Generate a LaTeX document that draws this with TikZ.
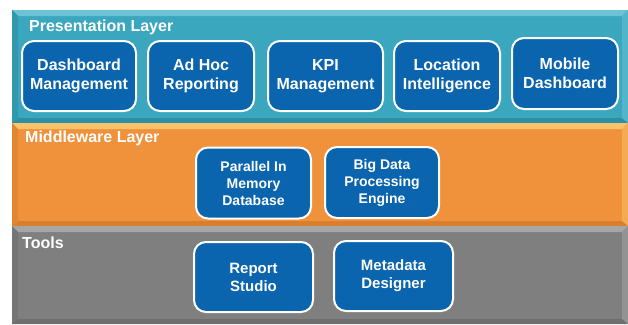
\documentclass[tikz,border=0pt]{standalone}
\usepackage{fontspec}
\setmainfont{Liberation Sans}
\definecolor{teal}{HTML}{3AA7BF}
\definecolor{tealL}{HTML}{6CC3D6}
\definecolor{tealD}{HTML}{2C8FA6}
\definecolor{orng}{HTML}{F0923C}
\definecolor{orngL}{HTML}{F8C36A}
\definecolor{orngD}{HTML}{D97E2C}
\definecolor{gry}{HTML}{7F7F7F}
\definecolor{gryL}{HTML}{A6A6A6}
\definecolor{gryD}{HTML}{6E6E6E}
\definecolor{boxblue}{HTML}{0A64AE}
\begin{document}
\begin{tikzpicture}[x=1pt,y=-1pt,
  comp/.style={draw=white, line width=2pt, fill=boxblue, rounded corners=12pt,
    text=white, font=\bfseries\fontsize{16}{19}\selectfont, align=center,
    inner sep=0pt, drop shadow/.style={}},
  compm/.style={comp, font=\bfseries\fontsize{14}{17}\selectfont},
  compt/.style={comp, font=\bfseries\fontsize{15}{18}\selectfont},
  layerlbl/.style={anchor=base west, text=white, inner sep=0pt,
    font=\bfseries\fontsize{16}{19}\selectfont}]
\useasboundingbox (0,0) rectangle (628,324);
\fill[white] (0,0) rectangle (628,324);
% layer bands with bevels
\newcommand{\band}[5]{% y1 y2 main light dark
  \fill[#3] (12,#1) rectangle (628,#2);
  \fill[#4] (12,#1) -- (628,#1) -- (622,#1+6) -- (18,#1+6) -- cycle;
  \fill[#5] (12,#2) -- (628,#2) -- (622,#2-5) -- (18,#2-5) -- cycle;
  \fill[#5!60!#3] (12,#1) -- (18,#1+6) -- (18,#2-5) -- (12,#2) -- cycle;
  \fill[#4!50!#3] (628,#1) -- (622,#1+6) -- (622,#2-5) -- (628,#2) -- cycle;
}
\band{10}{123}{teal}{tealL}{tealD}
\band{123}{226}{orng}{orngL}{orngD}
\band{226}{324}{gry}{gryL}{gryD}
\node[layerlbl] (lp) at (29,31) {Presentation Layer};
\node[layerlbl] (lm) at (25,142) {Middleware Layer};
\node[layerlbl] (lt) at (22,248) {Tools};
% presentation components
\node[comp, minimum width=114pt, minimum height=70pt] (dm) at (79,76) {Dashboard\\Management};
\node[comp, minimum width=106pt, minimum height=70pt] (ah) at (201,76) {Ad Hoc\\Reporting};
\node[comp, minimum width=115pt, minimum height=70pt] (kpi) at (325.5,76) {KPI\\Management};
\node[comp, minimum width=106pt, minimum height=70pt] (loc) at (447,76) {Location\\Intelligence};
\node[comp, minimum width=106pt, minimum height=71pt] (mob) at (565,73.5) {Mobile\\Dashboard};
% middleware components
\node[compm, minimum width=115pt, minimum height=71pt] (pim) at (253.5,183) {Parallel In\\Memory\\Database};
\node[compm, minimum width=114pt, minimum height=71pt] (bd) at (382,182.5) {Big Data\\Processing\\Engine};
% tools
\node[compt, minimum width=119pt, minimum height=70pt] (rs) at (253.5,277) {Report\\Studio};
\node[compt, minimum width=119pt, minimum height=70pt] (md) at (393.5,276) {Metadata\\Designer};
\end{tikzpicture}
\end{document}
